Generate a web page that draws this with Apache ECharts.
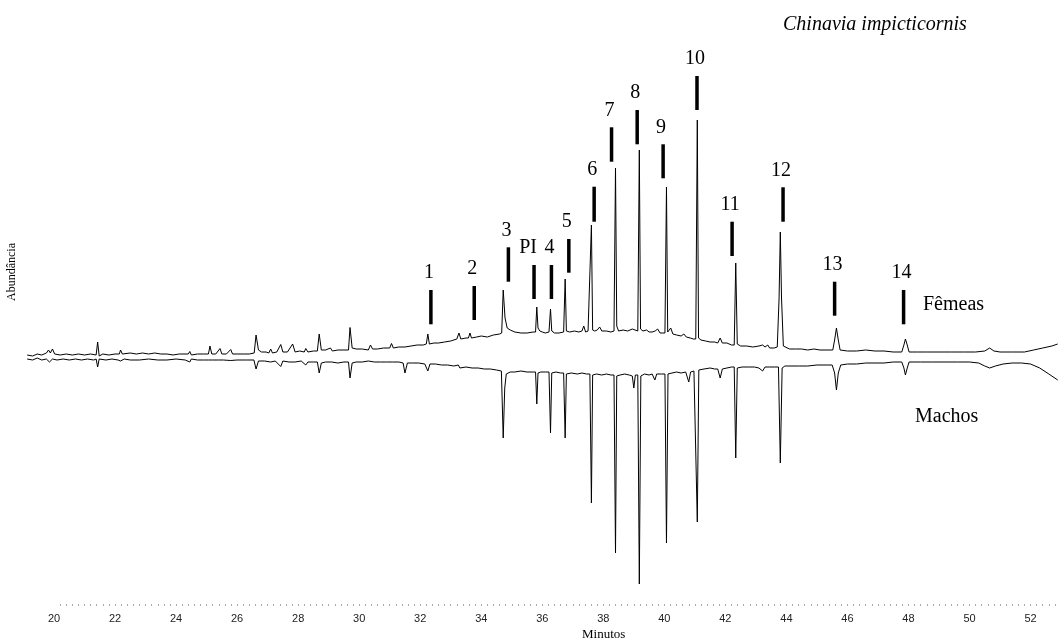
<!DOCTYPE html>
<html>
<head>
<meta charset="utf-8">
<script src="https://cdn.jsdelivr.net/npm/echarts@6/dist/echarts.min.js"></script>
<style>
html,body{margin:0;padding:0;background:#fff;}
#chart{width:1058px;height:643px;}
</style>
</head>
<body>
<div id="chart"></div>
<script>
// ---- Data (time in minutes, abundance in arbitrary units) ----
const tickLabels = [20, 22, 24, 26, 28, 30, 32, 34, 36, 38, 40, 42, 44, 46, 48, 50, 52];

const femeas = [
  [19.12, 3], [19.3, 2], [19.45, 4], [19.6, 3], [19.75, 5], [19.82, 8], [19.88, 5], [19.95, 9], [20.02, 4],
  [20.2, 3], [20.4, 4], [20.6, 3], [20.8, 4], [21.0, 3], [21.2, 4], [21.38, 3], [21.43, 16], [21.48, 2],
  [21.6, 4], [21.8, 3], [22.0, 4], [22.14, 4], [22.18, 8], [22.24, 4], [22.5, 5], [22.7, 4], [22.9, 5],
  [23.1, 4], [23.3, 5], [23.5, 4], [23.7, 4], [23.9, 3], [24.1, 4], [24.4, 4], [24.45, 6.5], [24.5, 3],
  [24.7, 4], [24.9, 4], [25.06, 4], [25.11, 12], [25.17, 4], [25.3, 4], [25.44, 9.5], [25.5, 4],
  [25.65, 4], [25.79, 8.5], [25.85, 4], [26.0, 4], [26.2, 4], [26.4, 4], [26.56, 5], [26.62, 23],
  [26.7, 8], [26.8, 6], [26.95, 6], [27.04, 5], [27.1, 9], [27.16, 5], [27.3, 6], [27.43, 13.5],
  [27.5, 6], [27.65, 6], [27.82, 14], [27.9, 6], [28.05, 7], [28.2, 6], [28.25, 9.5], [28.32, 6],
  [28.5, 7], [28.63, 7], [28.69, 24], [28.76, 8], [28.9, 8], [29.06, 10], [29.12, 7], [29.3, 8],
  [29.5, 8], [29.65, 8], [29.7, 30.5], [29.77, 10], [29.9, 9], [30.1, 9], [30.3, 8], [30.37, 13],
  [30.44, 9], [30.6, 9], [30.8, 10], [31.0, 10], [31.06, 14.5], [31.12, 10], [31.3, 11], [31.5, 11],
  [31.7, 12], [31.9, 13], [32.1, 13], [32.2, 14], [32.25, 24], [32.3, 14], [32.45, 15], [32.6, 15],
  [32.8, 16], [33.0, 17], [33.2, 19], [33.27, 25], [33.33, 19], [33.5, 20], [33.58, 20], [33.63, 25],
  [33.68, 20], [33.85, 21], [34.0, 22], [34.2, 21], [34.4, 23], [34.6, 24], [34.67, 25], [34.72, 68],
  [34.78, 40], [34.85, 30], [34.95, 28], [35.1, 26], [35.3, 25], [35.5, 25], [35.7, 26], [35.78, 26],
  [35.82, 51], [35.86, 30], [35.92, 27], [36.0, 26], [36.1, 25], [36.22, 26], [36.27, 49], [36.31, 27],
  [36.4, 25], [36.55, 25], [36.7, 26], [36.75, 79], [36.79, 27], [36.9, 26], [37.05, 27], [37.2, 26],
  [37.3, 27], [37.36, 32], [37.42, 26], [37.5, 27], [37.56, 27], [37.61, 133], [37.65, 28], [37.72, 27],
  [37.8, 28], [37.88, 31], [37.95, 27], [38.1, 27], [38.25, 26], [38.35, 27], [38.40, 190], [38.44, 32],
  [38.5, 27], [38.65, 28], [38.8, 27], [38.95, 29], [39.0, 27], [39.13, 27], [39.18, 208], [39.22, 29],
  [39.3, 27], [39.42, 28], [39.5, 26], [39.6, 26], [39.7, 27], [39.78, 29], [39.86, 25], [39.95, 25],
  [40.02, 25], [40.07, 171], [40.11, 26], [40.16, 25], [40.21, 30], [40.28, 24], [40.4, 23], [40.55, 22],
  [40.64, 24], [40.72, 21], [40.85, 20], [40.95, 19], [41.03, 19], [41.08, 238], [41.12, 20], [41.2, 18],
  [41.35, 17], [41.5, 16], [41.65, 16], [41.75, 15], [41.83, 20], [41.9, 15], [42.05, 15], [42.2, 13],
  [42.29, 13], [42.34, 95], [42.39, 14], [42.5, 12], [42.7, 12], [42.9, 11], [43.1, 12], [43.22, 13],
  [43.3, 11], [43.39, 13], [43.45, 10], [43.6, 10], [43.7, 11], [43.76, 60], [43.8, 126], [43.84, 60],
  [43.9, 12], [43.95, 10], [44.1, 9], [44.3, 9], [44.5, 9], [44.7, 8], [44.9, 9], [45.1, 8], [45.3, 8],
  [45.52, 8], [45.58, 18], [45.64, 30], [45.7, 18], [45.76, 8], [46.0, 7], [46.3, 7], [46.6, 8], [46.9, 7],
  [47.2, 7], [47.5, 6], [47.78, 6], [47.85, 13], [47.9, 19], [47.96, 13], [48.02, 6], [48.3, 6], [48.6, 6],
  [49.0, 6], [49.4, 6], [49.8, 6], [50.2, 6], [50.5, 7], [50.66, 10], [50.8, 7], [51.0, 6], [51.4, 6],
  [51.8, 6], [52.1, 8], [52.4, 10], [52.7, 12], [52.89, 14]
];

const machos = [
  [19.12, -1], [19.3, -2], [19.45, 0], [19.6, -2], [19.75, -1], [19.85, -4], [19.95, -1], [20.1, -2],
  [20.3, -1], [20.5, -2], [20.7, -1], [20.9, -2], [21.1, -1], [21.3, -2], [21.38, -1], [21.43, -9],
  [21.48, -1], [21.7, -2], [21.9, -1], [22.1, -2], [22.18, -3], [22.3, -1], [22.5, -2], [22.8, -2],
  [23.1, -1], [23.4, -2], [23.7, -2], [24.0, -1], [24.3, -2], [24.45, -4], [24.5, -1], [24.7, -2],
  [24.9, -2], [25.06, -2], [25.11, -4], [25.2, -2], [25.38, -2], [25.44, -3], [25.55, -2], [25.79, -2.5],
  [26.0, -2], [26.3, -2], [26.55, -2], [26.62, -11], [26.7, -3], [26.9, -3], [27.1, -4], [27.25, -3],
  [27.43, -8.5], [27.5, -3], [27.7, -4], [27.9, -4], [28.1, -3], [28.25, -7], [28.32, -4], [28.5, -4],
  [28.63, -4], [28.69, -15], [28.76, -5], [28.9, -4], [29.1, -4], [29.3, -5], [29.5, -4], [29.65, -4],
  [29.7, -20], [29.77, -5], [29.9, -4], [30.1, -4], [30.3, -3], [30.5, -4], [30.7, -4], [30.9, -4],
  [31.1, -4], [31.3, -4], [31.44, -5], [31.5, -15], [31.58, -5], [31.75, -5], [31.95, -5], [32.15, -6],
  [32.25, -13], [32.32, -6], [32.5, -6], [32.7, -7], [32.9, -7], [33.1, -8], [33.25, -7], [33.3, -10],
  [33.36, -8], [33.5, -9], [33.7, -10], [33.9, -10], [34.1, -11], [34.3, -11], [34.5, -12], [34.66, -13],
  [34.72, -80], [34.77, -30], [34.82, -16], [34.95, -14], [35.1, -14], [35.3, -13], [35.5, -14], [35.7, -14],
  [35.78, -14], [35.82, -46], [35.86, -15], [35.95, -14], [36.1, -14], [36.22, -14], [36.27, -75], [36.31, -15],
  [36.45, -14], [36.6, -15], [36.7, -15], [36.75, -80], [36.79, -16], [36.95, -15], [37.15, -16], [37.3, -15],
  [37.45, -16], [37.56, -16], [37.61, -145], [37.65, -17], [37.78, -16], [37.95, -17], [38.1, -16], [38.25, -17],
  [38.35, -17], [38.40, -195], [38.44, -18], [38.55, -17], [38.7, -16], [38.85, -17], [38.95, -18], [39.0, -30],
  [39.05, -17], [39.13, -17], [39.18, -226], [39.23, -18], [39.35, -16], [39.5, -17], [39.6, -16], [39.69, -22],
  [39.75, -16], [39.9, -16], [40.02, -16], [40.07, -185], [40.12, -16], [40.25, -15], [40.4, -14], [40.55, -15],
  [40.7, -14], [40.8, -24], [40.86, -14], [40.97, -13], [41.03, -13], [41.08, -164], [41.13, -12], [41.3, -11],
  [41.5, -10], [41.65, -11], [41.75, -11], [41.83, -20], [41.9, -11], [42.05, -10], [42.2, -9], [42.29, -9],
  [42.34, -100], [42.39, -10], [42.55, -9], [42.75, -9], [42.95, -9], [43.1, -10], [43.22, -13], [43.3, -9],
  [43.45, -9], [43.6, -9], [43.74, -9], [43.8, -105], [43.86, -10], [43.95, -8], [44.15, -8], [44.4, -8],
  [44.7, -8], [45.0, -7], [45.3, -7], [45.5, -7], [45.58, -15], [45.64, -32], [45.7, -15], [45.78, -7],
  [46.0, -6], [46.3, -6], [46.6, -5], [46.9, -5], [47.2, -5], [47.5, -4], [47.78, -4], [47.85, -10],
  [47.9, -17], [47.96, -10], [48.02, -4], [48.4, -4], [48.8, -4], [49.2, -4], [49.6, -4], [50.0, -4],
  [50.3, -5], [50.5, -8], [50.66, -10], [50.85, -8], [51.1, -6], [51.4, -5], [51.7, -5], [52.0, -6],
  [52.3, -10], [52.6, -16], [52.89, -22]
];

// Peak annotations: label, time of the marker bar, bar bottom / top (abundance units)
const peakLabels = ['1', '2', '3', 'PI', '4', '5', '6', '7', '8', '9', '10', '11', '12', '13', '14'];
const peakTimes = [32.35, 33.77, 34.89, 35.73, 36.30, 36.87, 37.70, 38.27, 39.11, 39.96, 41.07, 42.22, 43.89, 45.58, 47.84];
const barBottom = [33.7, 38, 76.3, 59, 59, 85.3, 136.3, 196.3, 213.7, 179.7, 248, 102, 136.3, 42.3, 33.7];
const barTop = [68, 72, 110.7, 93, 93, 119, 171.3, 230.7, 248, 213.7, 282, 136.3, 170.7, 76.3, 68];

// ---- Chart ----
const minorTicks = [];
for (let k = 101; k <= 264; k++) minorTicks.push(k / 5);

const serif = '"Liberation Serif", "Times New Roman", serif';
const chart = echarts.init(document.getElementById('chart'), null, { renderer: 'canvas' });

chart.setOption({
  animation: false,
  backgroundColor: '#fff',
  title: {
    text: 'Chinavia impicticornis',
    left: 778, top: 10,
    textStyle: { fontFamily: serif, fontStyle: 'italic', fontWeight: 'normal', fontSize: 20, color: '#000' }
  },
  grid: { left: 23.5, top: 20, width: 1035, height: 584, containLabel: false },
  xAxis: {
    type: 'value', min: 19, max: 52.9, position: 'bottom',
    axisLine: { show: false, onZero: false },
    splitLine: { show: false },
    axisTick: { show: true, customValues: minorTicks, length: 2, lineStyle: { color: '#aaa', width: 1 } },
    axisLabel: {
      show: true, customValues: tickLabels, margin: 9,
      fontFamily: '"Liberation Sans", Arial, sans-serif', fontSize: 11, color: '#222'
    }
  },
  yAxis: {
    type: 'value', min: -246, max: 338, show: false,
    splitLine: { show: false }
  },
  graphic: [
    { type: 'text', left: 606 - 24, top: 628,
      style: { text: 'Minutos', font: '13px ' + serif, fill: '#000' } },
    { type: 'text', x: 12, y: 272, rotation: Math.PI / 2,
      style: { text: 'Abundância', font: '12px ' + serif, fill: '#000', textAlign: 'center', textVerticalAlign: 'middle' } },
    { type: 'text', x: 923, y: 305,
      style: { text: 'Fêmeas', font: '20px ' + serif, fill: '#000', textVerticalAlign: 'middle' } },
    { type: 'text', x: 915, y: 417,
      style: { text: 'Machos', font: '20px ' + serif, fill: '#000', textVerticalAlign: 'middle' } }
  ],
  series: [
    {
      name: 'Fêmeas', type: 'line', data: femeas, showSymbol: false, smooth: false,
      lineStyle: { color: '#000', width: 1 }, z: 3
    },
    {
      name: 'Machos', type: 'line', data: machos, showSymbol: false, smooth: false,
      lineStyle: { color: '#000', width: 1 }, z: 3
    },
    {
      name: 'Picos', type: 'custom', z: 5,
      data: peakTimes.map((t, i) => [t, barBottom[i], barTop[i]]),
      renderItem: function (params, api) {
        const top = api.coord([api.value(0), api.value(2)]);
        const bot = api.coord([api.value(0), api.value(1)]);
        const label = peakLabels[params.dataIndex];
        const dx = label === 'PI' ? -6 : -2;
        return {
          type: 'group',
          children: [
            { type: 'rect', shape: { x: top[0] - 1.75, y: top[1], width: 3.5, height: bot[1] - top[1] },
              style: { fill: '#000' } },
            { type: 'text', style: { text: label, x: top[0] + dx, y: top[1] - 7,
                textAlign: 'center', textVerticalAlign: 'bottom', font: '20px ' + serif, fill: '#000' } }
          ]
        };
      }
    }
  ]
});
</script>
</body>
</html>
